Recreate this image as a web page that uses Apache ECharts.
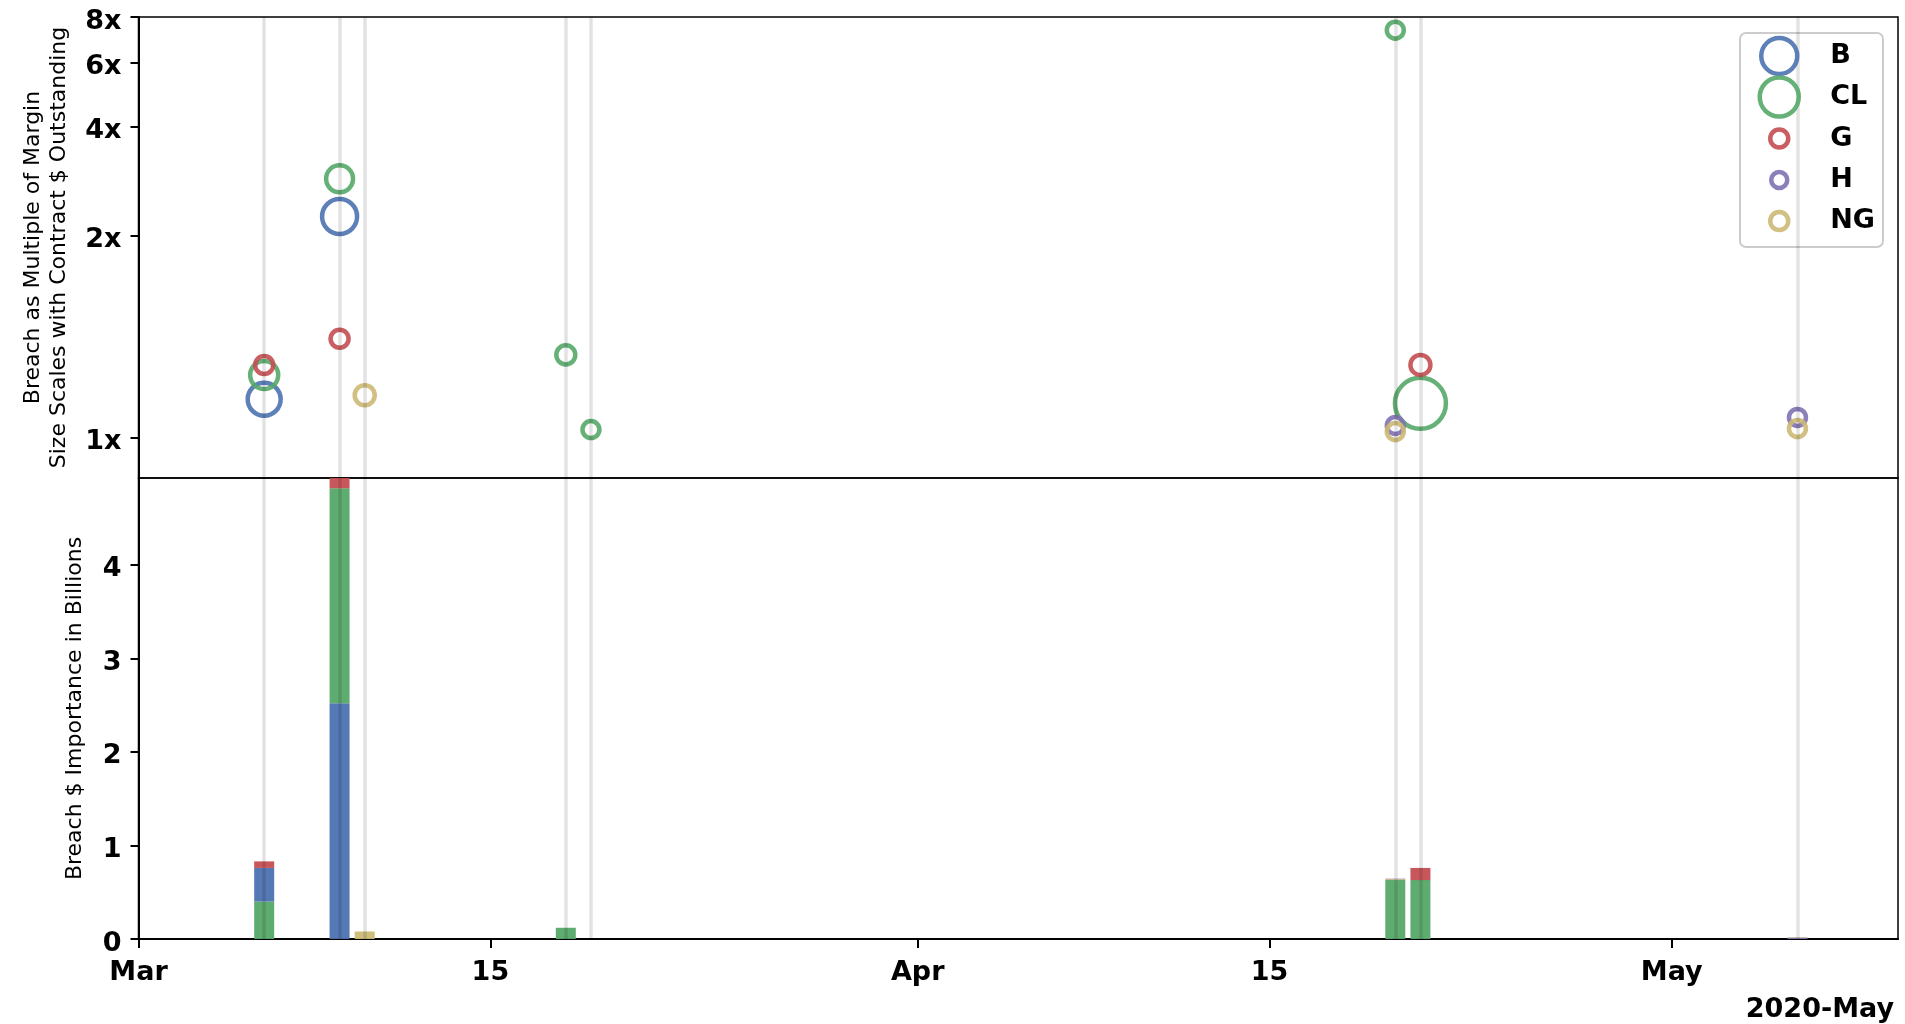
<!DOCTYPE html>
<html>
<head>
<meta charset="utf-8">
<script src="https://cdn.jsdelivr.net/npm/echarts@6/dist/echarts.min.js"></script>
<style>
html,body{margin:0;padding:0;background:#fff;}
#chart{width:1905px;height:1024px;}
</style>
</head>
<body>
<div id="chart"></div>
<script>
// ---------------- DATA ----------------
const commodities = ['B', 'CL', 'G', 'H', 'NG'];
const eventDates = ['2020-03-06','2020-03-09','2020-03-10','2020-03-18','2020-03-19','2020-04-20','2020-04-21','2020-05-06'];

// Breach as multiple of margin (null = no breach)
const multB  = [1.19, 2.26, null, null, null, null, null, null];
const multCL = [1.31, 2.87, null, 1.41, 1.04, 7.36, 1.17, null];
const multG  = [1.36, 1.49, null, null, null, null, 1.36, null];
const multH  = [null, null, null, null, null, 1.06, null, 1.10];
const multNG = [null, null, 1.21, null, null, 1.03, null, 1.045];

// Contract $ outstanding (relative units, drives bubble area)
const outB  = [43.5, 49, null, null, null, null, null, null];
const outCL = [31.5, 29, null, 14.5, 11.5, 11.5, 104, null];
const outG  = [13, 13, null, null, null, null, 16, null];
const outH  = [null, null, null, null, null, 11.5, null, 11.5];
const outNG = [null, null, 16, null, null, 11.5, null, 11.5];

// Breach $ importance in billions
const impB  = [0.36, 2.52, 0, 0, 0, 0, 0, 0];
const impCL = [0.40, 2.30, 0, 0.12, 0, 0.63, 0.63, 0];
const impG  = [0.07, 0.11, 0, 0, 0, 0, 0.13, 0];
const impH  = [0, 0, 0, 0, 0, 0.005, 0, 0.015];
const impNG = [0, 0, 0.08, 0, 0, 0.01, 0, 0.005];

const xStart = '2020-03-01';
const xEnd = '2020-05-10';
const xTickDates = ['2020-03-01','2020-03-15','2020-04-01','2020-04-15','2020-05-01'];
const xTickLabels = ['Mar','15','Apr','15','May'];
const yTopTicks = [1, 2, 4, 6, 8];
const yTopTickLabels = ['1x','2x','4x','6x','8x'];
const yTopMin = 0.8, yTopMax = 8;
const yBotTicks = [0, 1, 2, 3, 4];
const yBotMax = 4.93;
const offsetLabel = '2020-May';

// ---------------- HELPERS ----------------
const colors = {B:'#4c72b0', CL:'#55a868', G:'#c44e52', H:'#8172b2', NG:'#ccb974'};
const mult = {B:multB, CL:multCL, G:multG, H:multH, NG:multNG};
const outs = {B:outB, CL:outCL, G:outG, H:outH, NG:outNG};
const imps = {B:impB, CL:impCL, G:impG, H:impH, NG:impNG};

function utc(s){ const p = s.split('-').map(Number); return Date.UTC(p[0], p[1]-1, p[2]); }
function day(s){ return (utc(s) - utc(xStart)) / 86400000; }
function fmt(t){ const d = new Date(t); const m = d.getUTCMonth() + 1, dd = d.getUTCDate();
  return d.getUTCFullYear() + '-' + (m < 10 ? '0' : '') + m + '-' + (dd < 10 ? '0' : '') + dd; }
// every day of the x range, used as the bar chart's category axis
const allDays = [];
for (let t = utc(xStart); t <= utc(xEnd); t += 86400000) allDays.push(fmt(t));

// symlog transform (base 10, linthresh 2, linscale 1)
const LT = 2, ADJ = 1 / (1 - 1/10);
function sl(v){ return v <= LT ? v * ADJ : LT * (ADJ + Math.log10(v / LT)); }
function sizeOf(o){ return 5 * Math.sqrt(o); }

const FONT = 'DejaVu Sans';
const RING = 4.5;

// scatter series
const scatterSeries = commodities.map(c => ({
  name: c, type: 'scatter', xAxisIndex: 0, yAxisIndex: 0, z: 3,
  symbol: 'circle',
  itemStyle: {color: 'rgba(0,0,0,0)', borderColor: colors[c], borderWidth: RING, opacity: 0.9},
  emphasis: {disabled: true},
  data: eventDates.map((d, i) => mult[c][i] == null ? null : ({
    value: [day(d), sl(mult[c][i])],
    symbolSize: sizeOf(outs[c][i])
  })).filter(x => x)
}));

// stacked bars, stacked in descending order of value per date
const ranks = eventDates.map((d, i) =>
  commodities.map(c => ({c, v: imps[c][i]})).sort((a, b) => b.v - a.v));
const barSeries = commodities.map((_, k) => ({
  name: 'rank' + k, type: 'bar', xAxisIndex: 1, yAxisIndex: 1, stack: 'imp', z: 2,
  barWidth: 20,
  emphasis: {disabled: true},
  data: allDays.map(dd => {
    const i = eventDates.indexOf(dd);
    if (i < 0 || !ranks[i][k].v) return '-';
    return {value: ranks[i][k].v, itemStyle: {color: colors[ranks[i][k].c], opacity: 0.95}};
  })
}));

const vlineStyle = {color: 'rgba(0,0,0,0.115)', width: 3.5, type: 'solid'};
const vlineTop = {
  name: 'vlTop', type: 'scatter', xAxisIndex: 0, yAxisIndex: 0, z: 1, data: [],
  markLine: {silent: true, symbol: ['none','none'], label: {show: false}, lineStyle: vlineStyle,
    emphasis: {disabled: true}, data: eventDates.map(d => ({xAxis: day(d)}))}
};
const vlineBot = {
  name: 'vlBot', type: 'line', xAxisIndex: 1, yAxisIndex: 1, z: 4, data: [], showSymbol: false,
  markLine: {silent: true, symbol: ['none','none'], label: {show: false}, lineStyle: vlineStyle,
    emphasis: {disabled: true}, data: eventDates.map(d => ({xAxis: d}))}
};

const gridL = 138.5, gridR = 7;
const tickLabelStyle = {color: '#000', fontFamily: FONT, fontWeight: 'bold', fontSize: 27};
const yRich = {t: {color: '#000', fontFamily: FONT, fontWeight: 'bold', fontSize: 27, padding: [9, 0, 0, 0]}};

const legendRowsY = [56, 97, 138.5, 180, 221];
const legendIconSize = {B: 36, CL: 39, G: 18, H: 16, NG: 18};
const legendIconX = 1777, legendTextX = 1828;
const legends = commodities.map((c, i) => {
  const h = legendIconSize[c];
  return {
    z: 10, left: legendIconX - h / 2, top: legendRowsY[i] - 22, padding: 0,
    itemWidth: h, itemHeight: h, itemGap: 0,
    selectedMode: false,
    textStyle: {color: '#000', fontFamily: FONT, fontWeight: 'bold', fontSize: 27, lineHeight: 44,
                padding: [0, 0, 0, legendTextX - (legendIconX + h / 2 + 5)]},
    data: [{name: c, icon: 'circle',
            itemStyle: {color: 'rgba(0,0,0,0)', borderColor: colors[c], borderWidth: RING, opacity: 0.9}}]
  };
});

const option = {
  backgroundColor: '#fff',
  animation: false,
  title: {
    text: offsetLabel, right: 6, top: 991,
    textStyle: {color: '#000', fontFamily: FONT, fontWeight: 'bold', fontSize: 27}
  },
  legend: legends,
  graphic: [{
    type: 'rect', z: 5,
    shape: {x: 1740, y: 33, width: 143, height: 214, r: 6},
    style: {fill: 'rgba(255,255,255,0.8)', stroke: '#cccccc', lineWidth: 2}
  }],
  grid: [
    {left: gridL, right: gridR, top: 17, height: 461, show: true, borderColor: '#000', borderWidth: 1.5, backgroundColor: 'transparent'},
    {left: gridL, right: gridR, top: 478, height: 461, show: true, borderColor: '#000', borderWidth: 1.5, backgroundColor: 'transparent'}
  ],
  xAxis: [
    {type: 'value', gridIndex: 0, min: day(xStart), max: day(xEnd), show: false, splitLine: {show: false}},
    {type: 'category', gridIndex: 1, data: allDays, boundaryGap: false,
     splitLine: {show: false},
     axisLine: {show: true, onZero: false, lineStyle: {color: '#000', width: 2}},
     axisTick: {show: true, length: 9, lineStyle: {color: '#000', width: 2},
                interval: (idx, val) => xTickDates.indexOf(val) >= 0},
     axisLabel: Object.assign({margin: 20,
       interval: (idx, val) => xTickDates.indexOf(val) >= 0,
       formatter: val => { const i = xTickDates.indexOf(val); return i >= 0 ? xTickLabels[i] : ''; }}, tickLabelStyle)
    }
  ],
  yAxis: [
    {type: 'value', gridIndex: 0, min: sl(yTopMin), max: sl(yTopMax),
     splitLine: {show: false},
     name: 'Breach as Multiple of Margin\nSize Scales with Contract $ Outstanding',
     nameLocation: 'middle', nameGap: 66, nameRotate: 90,
     nameTextStyle: {color: '#000', fontFamily: FONT, fontSize: 22, lineHeight: 26},
     axisLine: {show: true, lineStyle: {color: '#000', width: 2}},
     axisTick: {show: true, length: 8, lineStyle: {color: '#000', width: 2}, customValues: yTopTicks.map(sl)},
     axisLabel: Object.assign({margin: 17, customValues: yTopTicks.map(sl), rich: yRich,
       formatter: v => { let best = 0, bd = 1e9; yTopTicks.forEach((t, i) => { const d = Math.abs(sl(t) - v); if (d < bd) { bd = d; best = i; } }); return '{t|' + yTopTickLabels[best] + '}'; }}, tickLabelStyle)
    },
    {type: 'value', gridIndex: 1, min: 0, max: yBotMax,
     splitLine: {show: false},
     name: 'Breach $ Importance in Billions',
     nameLocation: 'middle', nameGap: 52, nameRotate: 90,
     nameTextStyle: {color: '#000', fontFamily: FONT, fontSize: 22},
     axisLine: {show: true, lineStyle: {color: '#000', width: 2}},
     axisTick: {show: true, length: 8, lineStyle: {color: '#000', width: 2}, customValues: yBotTicks},
     axisLabel: Object.assign({margin: 17, customValues: yBotTicks, rich: yRich, formatter: v => '{t|' + v + '}'}, tickLabelStyle)
    }
  ],
  series: [vlineTop, ...scatterSeries, ...barSeries, vlineBot]
};

const chart = echarts.init(document.getElementById('chart'), null, {renderer: 'canvas'});
chart.setOption(option);
</script>
</body>
</html>
